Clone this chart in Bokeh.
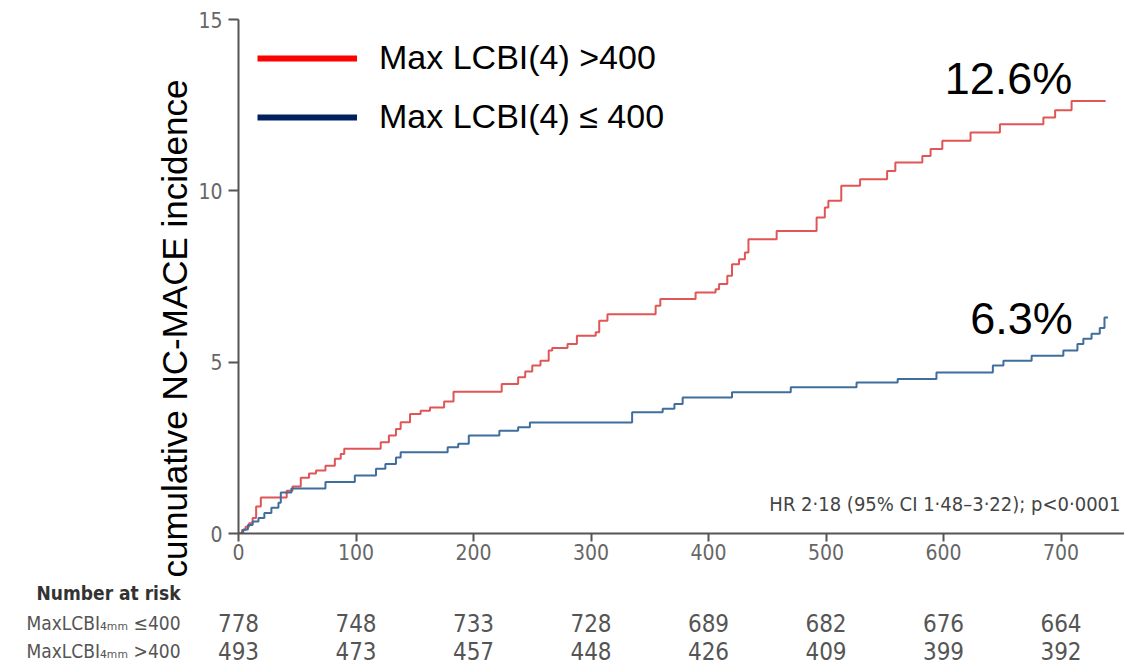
import math
from bokeh.plotting import figure
from bokeh.layouts import column
from bokeh.models import (FixedTicker, Label, Legend, LegendItem, Title, Range1d)
from bokeh.core.properties import value
from bokeh.embed import file_html
from bokeh.resources import INLINE

# ---- data ----
red_days = [0, 3, 6, 9, 12, 15, 19, 41, 46, 53, 60, 66, 74, 82, 87, 90, 121, 128, 134, 138,
            146, 155, 163, 175, 183, 224, 238, 244, 250, 257, 264, 267, 280, 288, 304, 307,
            314, 355, 359, 389, 406, 409, 416, 420, 426, 431, 434, 458, 492, 499, 502, 513,
            529, 552, 559, 582, 589, 599, 623, 648, 685, 695, 709, 738]
red_pct = [0, 0.1, 0.2, 0.3, 0.45, 0.79, 1.05, 1.25, 1.37, 1.63, 1.75, 1.84, 1.98, 2.18, 2.32,
           2.47, 2.66, 2.86, 3.05, 3.25, 3.49, 3.58, 3.68, 3.85, 4.14, 4.36, 4.56, 4.73, 4.9,
           5.04, 5.34, 5.41, 5.53, 5.77, 5.87, 6.21, 6.4, 6.65, 6.84, 7.03, 7.13, 7.28, 7.52,
           7.86, 8.0, 8.2, 8.59, 8.83, 9.22, 9.51, 9.71, 10.15, 10.34, 10.58, 10.83, 11.02,
           11.22, 11.46, 11.7, 11.94, 12.14, 12.35, 12.62, 12.62]

blue_days = [0, 4, 8, 12, 17, 22, 28, 34, 36, 45, 74, 99, 117, 125, 134, 138, 178, 187, 196,
             222, 238, 248, 335, 361, 371, 378, 420, 470, 526, 561, 594, 642, 651, 675, 702,
             714, 719, 726, 733, 737, 740]
blue_pct = [0, 0.12, 0.25, 0.35, 0.45, 0.6, 0.75, 0.9, 1.2, 1.31, 1.5, 1.69, 1.89, 2.03, 2.22,
            2.37, 2.52, 2.62, 2.86, 3.0, 3.1, 3.24, 3.54, 3.64, 3.78, 3.97, 4.12, 4.27, 4.41,
            4.51, 4.7, 4.9, 5.04, 5.19, 5.34, 5.53, 5.68, 5.83, 6.0, 6.3, 6.3]

x_ticks = [0, 100, 200, 300, 400, 500, 600, 700]
y_ticks = [0, 5, 10, 15]
risk_le400 = [778, 748, 733, 728, 689, 682, 676, 664]
risk_gt400 = [493, 473, 457, 448, 426, 409, 399, 392]
label_red = "Max LCBI(4) >400"
label_blue = "Max LCBI(4) \u2264 400"
end_red = "12.6%"
end_blue = "6.3%"
hr_text = "HR 2\u00b718 (95% CI 1\u00b748\u20133\u00b722); p<0\u00b70001"
y_title = "cumulative NC-MACE incidence"
risk_title = "Number at risk"
row_labels = ["MaxLCBI\u2084\u2098\u2098 \u2264400", "MaxLCBI\u2084\u2098\u2098 >400"]

# ---- layout constants (page pixels) ----
W = 1124
H1, H2 = 578, 90
F_LEFT, F_TOP, F_BOTTOM = 238, 19, 533
YMAX = 15.0
px_per_day = 1.175
XMAX = (W - F_LEFT) / px_per_day
px_per_unit = (F_BOTTOM - F_TOP) / YMAX

NARROW = "'DejaVu Sans Condensed', Roboto, sans-serif"
SANS = "Liberation Sans"


def xv(px):  # page pixel -> day
    return (px - F_LEFT) / px_per_day


def yv(py):  # page pixel -> value
    return (F_BOTTOM - py) / px_per_unit


p = figure(width=W, height=H1, x_range=Range1d(0, XMAX), y_range=Range1d(0, YMAX),
           output_backend="svg", toolbar_location=None, frame_align=False,
           min_border_left=F_LEFT, min_border_right=0, min_border_top=F_TOP,
           min_border_bottom=H1 - F_BOTTOM)
p.outline_line_color = None
p.grid.visible = False

for ax in (p.xaxis[0], p.yaxis[0]):
    ax.axis_line_color = "#555555"
    ax.axis_line_width = 2
    ax.major_tick_line_color = "#555555"
    ax.major_tick_line_width = 2
    ax.minor_tick_line_color = None
    ax.major_tick_in = 0
    ax.major_label_text_font = NARROW
    ax.major_label_text_color = "#666666"
    ax.major_label_text_font_size = "21px"

p.xaxis.ticker = FixedTicker(ticks=x_ticks)
p.yaxis.ticker = FixedTicker(ticks=y_ticks)
p.xaxis.major_tick_out = 8
p.xaxis.major_label_standoff = 2
p.yaxis.major_tick_out = 10
p.yaxis.major_label_standoff = 6

# curves
p.step(red_days, red_pct, mode="after", line_color="#E05555", line_width=2)
p.step(blue_days, blue_pct, mode="after", line_color="#3F6D9C", line_width=2)

# legend with swatch renderers kept out of view
r_leg_red = p.line([-1000, -999], [-100, -100], line_color="#FF0000", line_width=6)
r_leg_blue = p.line([-1000, -999], [-100, -100], line_color="#002060", line_width=6)
legend = Legend(items=[LegendItem(label=label_red, renderers=[r_leg_red]),
                       LegendItem(label=label_blue, renderers=[r_leg_blue])],
                location="top_left", margin=19, padding=0, spacing=20,
                glyph_width=100, glyph_height=30, label_height=30,
                label_standoff=22, label_text_font=SANS,
                label_text_font_size="34px", label_text_color="black",
                border_line_alpha=0, background_fill_alpha=0)
p.add_layout(legend)

# end labels
p.add_layout(Label(x=xv(1008), y=yv(78), text=end_red, text_font=SANS,
                   text_font_size="45px", text_align="center", text_baseline="middle",
                   text_color="black"))
p.add_layout(Label(x=xv(1021), y=yv(318), text=end_blue, text_font=SANS,
                   text_font_size="45px", text_align="center", text_baseline="middle",
                   text_color="black"))

# HR text
p.add_layout(Label(x=xv(1120), y=yv(503), text=hr_text, text_font=NARROW,
                   text_font_size="20px", text_align="right", text_baseline="middle",
                   text_color="#444444"))

# y axis title (side panel, vertical), starting below the x axis like the reference
p.add_layout(Title(text=y_title, align="left", offset=-44, text_font=SANS,
                   text_font_size="35px", text_font_style="normal",
                   text_color="black", standoff=4), "left")

# ---- number at risk table: second figure on the same day scale ----
t = figure(width=W, height=H2, x_range=Range1d(xv(0), xv(W)), y_range=Range1d(H2, 0),
           output_backend="svg", toolbar_location=None, frame_align=False,
           min_border_left=0, min_border_right=0, min_border_top=0, min_border_bottom=0)
t.axis.visible = False
t.grid.visible = False
t.outline_line_color = None

row_y = [44, 72]
label_x = xv(180)
t.text(x=[label_x], y=[14], text=[risk_title], text_font=value(NARROW),
       text_font_size="19px", text_font_style="bold", text_align="right",
       text_baseline="middle", text_color="#333333")
t.text(x=[label_x, label_x], y=row_y, text=row_labels, text_font=value(NARROW),
       text_font_size="19px", text_align="right", text_baseline="middle",
       text_color="#555555")
t.text(x=x_ticks, y=[row_y[0]] * len(x_ticks), text=[str(v) for v in risk_le400],
       text_font=value(NARROW), text_font_size="24px", text_align="center",
       text_baseline="middle", text_color="#555555")
t.text(x=x_ticks, y=[row_y[1]] * len(x_ticks), text=[str(v) for v in risk_gt400],
       text_font=value(NARROW), text_font_size="24px", text_align="center",
       text_baseline="middle", text_color="#555555")

layout = column(p, t, spacing=0)
open("out.html", "w").write(file_html(layout, INLINE))
